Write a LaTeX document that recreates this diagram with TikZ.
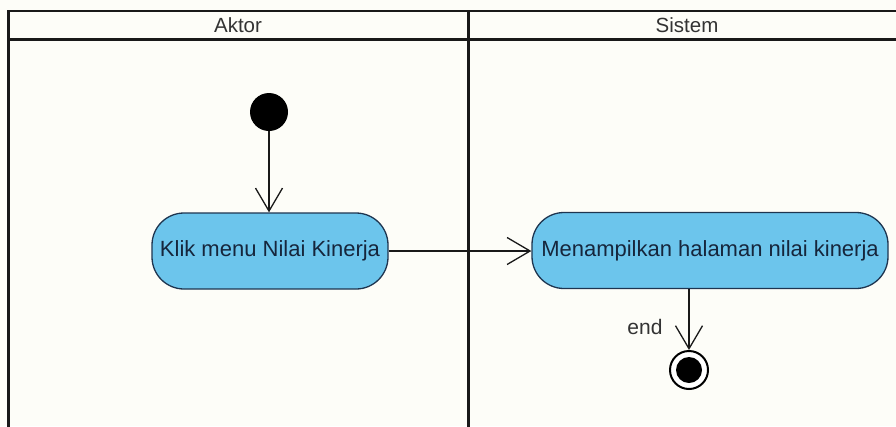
\documentclass[tikz,border=0pt]{standalone}
\usepackage{fontspec}
\setmainfont{Liberation Sans}
\usetikzlibrary{arrows.meta}
\definecolor{bgc}{HTML}{FDFDF8}
\definecolor{actfill}{HTML}{6CC5EC}
\definecolor{actdraw}{HTML}{1E3550}
\definecolor{acttext}{HTML}{16263C}
\definecolor{hdrtext}{HTML}{333333}
\tikzset{
  lane/.style={line width=2.6pt, draw=black!90},
  actbox/.style={draw=actdraw, fill=actfill, line width=1.3pt, rounded corners=32pt,
    minimum height=76pt, inner sep=0pt, text=acttext,
    font=\fontsize{22}{26}\selectfont},
  hdr/.style={text=hdrtext, font=\fontsize{20.5}{24}\selectfont, inner sep=0pt},
  flow/.style={line width=1.3pt, draw=black!90,
    -{Straight Barb[length=23pt,width=27pt,line width=1.3pt]}},
  startnode/.style={circle, fill=black, minimum size=38pt, inner sep=0pt},
  endring/.style={circle, draw=black, line width=2pt, fill=white, minimum size=38pt, inner sep=0pt},
}
\begin{document}
\begin{tikzpicture}[x=1pt,y=-1pt]
\useasboundingbox (0,0) rectangle (896,426);
\fill[bgc] (0,0) rectangle (896,426);
% swimlane frame
\draw[lane] (8.5,430) -- (8.5,11) -- (910,11);
\draw[lane] (8.5,39.5) -- (910,39.5);
\draw[lane, line width=3pt] (468,11) -- (468,430);
\node[hdr] (hA) at (238,25.5) {Aktor};
\node[hdr] (hS) at (687,25.5) {Sistem};
% nodes
\node[startnode] (start) at (269,112) {};
\node[actbox, minimum width=236pt] (a1) at (270,251) {Klik menu Nilai Kinerja};
\node[actbox, minimum width=356pt] (a2) at (710,250.5) {Menampilkan halaman nilai kinerja};
\node[endring] (end) at (689,370) {};
\fill[black] (end.center) circle (13pt);
\coordinate (a2out) at (a2.south -| end);
% connectors
\draw[flow] (start) -- (a1.north -| start);
\draw[flow] (a1.east) -- (a2.west |- a1.east);
\draw[flow] (a2out) -- (end.north);
\node[text=hdrtext, font=\fontsize{21}{25}\selectfont, inner sep=0pt] (endlbl) at (645,327) {end};
\end{tikzpicture}
\end{document}
